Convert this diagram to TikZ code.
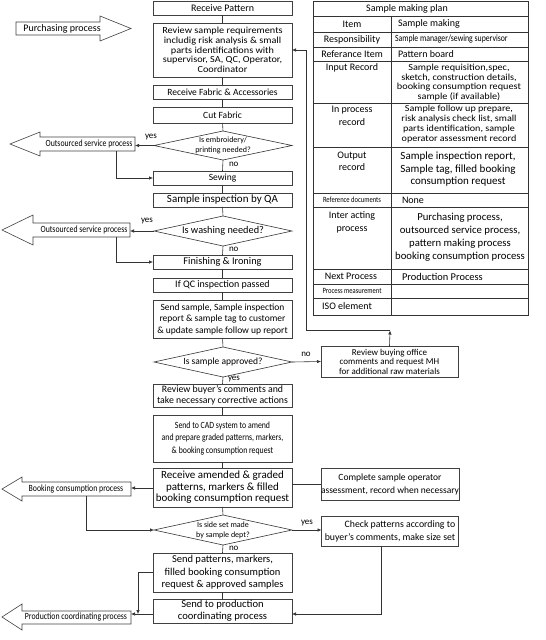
\documentclass[tikz,border=0pt]{standalone}
\usepackage{fontspec}
\setmainfont{Carlito}
\newfontfamily\narrowfont[FakeStretch=0.82]{Carlito}
\newfontfamily\widefont[FakeStretch=1.1]{Carlito}
\usetikzlibrary{arrows.meta,calc}
\begin{document}
\begin{tikzpicture}[x=1pt,y=-1pt,
 every node/.style={inner sep=0pt, outer sep=0pt},
 box/.style={draw=black!75, line width=0.6pt, align=center, minimum width=139pt, font=\fontsize{9.5}{11.5}\selectfont},
 sbox/.style={draw=black!75, line width=0.6pt, align=center, minimum width=137pt},
 dia/.style={align=center, minimum width=138pt},
 ln/.style={draw=black!80, line width=0.6pt},
 arr/.style={ln, -{Latex[length=4pt,width=3.5pt]}},
 lbl/.style={font=\fontsize{9}{10}\selectfont},
 shp/.style={draw=black!75, line width=0.6pt, fill=white},
 narrowtxt/.style={font=\narrowfont\fontsize{9.5}{10}\selectfont},
 tbl/.style={font=\fontsize{10}{10.5}\selectfont, align=center},
]
\useasboundingbox (0,0) rectangle (546,640);

% ---------- left process arrows (shapes) ----------
\draw[shp] (16,22)--(100,22)--(100,16)--(131,28.5)--(100,41)--(100,35)--(16,35)--cycle;
\node[font=\fontsize{10}{11}\selectfont] (pur) at (62,28.5) {Purchasing process};

\draw[shp] (10,144)--(40,132)--(40,137)--(135,137)--(135,151)--(40,151)--(40,156)--cycle;
\node[narrowtxt] (out1) at (89,144) {Outsourced service process};
\coordinate (out1e) at (135,145);
\coordinate (out1b) at (116,151);

\draw[shp] (2,230)--(33,215)--(33,223)--(130,223)--(130,237)--(33,237)--(33,245)--cycle;
\node[narrowtxt] (out2) at (84,230) {Outsourced service process};
\coordinate (out2e) at (130,231);
\coordinate (out2b) at (116,237);

\draw[shp] (2,489)--(22,477)--(22,482)--(131,482)--(131,496)--(22,496)--(22,501)--cycle;
\node[narrowtxt] (book) at (76,489) {Booking consumption process};
\coordinate (booke) at (131,488);
\coordinate (bookb) at (86,496);

\draw[shp] (2,617)--(22,604)--(22,611)--(131,611)--(131,624)--(22,624)--(22,630)--cycle;
\node[narrowtxt] (prod) at (76,617) {Production coordinating process};
\coordinate (prode) at (131,614);
\coordinate (prodj) at (138,614);

% ---------- main column ----------
\node[box, minimum height=14pt, font=\fontsize{10}{11}\selectfont] (rp) at (222.5,8) {Receive Pattern};
\node[box, minimum height=54pt, font=\widefont\fontsize{9.3}{9.7}\selectfont] (rsr) at (222.5,50) {Review sample requirements\\includig risk analysis \& small\\parts identifications with\\supervisor, SA, QC, Operator,\\Coordinator};
\node[box, minimum height=14pt] (rfa) at (222.5,92) {Receive Fabric \& Accessories};
\node[box, minimum height=16pt] (cf) at (222.5,115) {Cut Fabric};
\node[dia, minimum height=29pt, font=\fontsize{8}{9.5}\selectfont] (d1) at (223,145.5) {Is embroidery/\\printing needed?};
\draw[ln] (d1.west)--(d1.north)--(d1.east)--(d1.south)--cycle;
\node[box, minimum height=14pt] (sew) at (222.5,178) {Sewing};
\node[box, minimum height=14pt, font=\fontsize{11}{12}\selectfont] (siq) at (222.5,200) {Sample inspection by QA};
\node[dia, minimum height=30pt, font=\fontsize{10.3}{11}\selectfont] (d2) at (223,231) {Is washing needed?};
\draw[ln] (d2.west)--(d2.north)--(d2.east)--(d2.south)--cycle;
\node[box, minimum height=14pt, font=\fontsize{10.3}{11}\selectfont] (fi) at (222.5,262) {Finishing \& Ironing};
\node[box, minimum height=14pt, font=\fontsize{10}{11}\selectfont] (qc) at (222.5,285) {If QC inspection passed};
\node[box, minimum height=38pt] (ss) at (222.5,319) {Send sample, Sample inspection\\report \& sample tag to customer\\\& update sample follow up report};
\node[dia, minimum height=30pt, font=\fontsize{9.5}{11}\selectfont] (d3) at (223,362) {Is sample approved?};
\draw[ln] (d3.west)--(d3.north)--(d3.east)--(d3.south)--cycle;
\node[box, minimum height=23pt, font=\fontsize{9.8}{11}\selectfont] (rbc) at (222.5,395.5) {Review buyer’s comments and\\take necessary corrective actions};
\node[box, minimum height=47pt, font=\narrowfont\fontsize{9.5}{12.5}\selectfont] (cad) at (222.5,438.5) {Send to CAD system to amend\\and prepare graded patterns, markers,\\\& booking consumption request};
\node[box, minimum height=39pt, font=\fontsize{11}{11.5}\selectfont] (ra) at (222.5,487.5) {Receive amended \& graded\\patterns, markers \& filled\\booking consumption request};
\node[dia, minimum height=30pt, font=\fontsize{8}{10}\selectfont] (d4) at (223,530) {Is side set made\\by sample dept?};
\draw[ln] (d4.west)--(d4.north)--(d4.east)--(d4.south)--cycle;
\node[box, minimum height=39pt, font=\fontsize{10.5}{12.5}\selectfont] (sp) at (222.5,572.5) {Send patterns, markers,\\filled booking consumption\\request \& approved samples};
\node[box, minimum height=24pt, font=\fontsize{10.6}{12}\selectfont] (spc) at (222.5,611) {Send to production\\coordinating process};

% sequence lines
\foreach \a/\b in {rp/rsr,rsr/rfa,rfa/cf,cf/d1,d1/sew,sew/siq,siq/d2,d2/fi,fi/qc,qc/ss,ss/d3,d3/rbc,rbc/cad,cad/ra,ra/d4,d4/sp,sp/spc}
  \draw[ln] (\a.south) -- (\b.north);

% ---------- right boxes ----------
\node[sbox, minimum height=31pt, font=\fontsize{9}{9.5}\selectfont] (rbo) at (389.5,361.5) {Review buying office\\comments and request MH\\for additional raw materials};
\node[sbox, minimum height=32pt, font=\fontsize{9.5}{13}\selectfont] (cso) at (390,484) {Complete sample operator\\assessment, record when necessary};
\node[sbox, minimum height=30pt, align=right, font=\fontsize{9.8}{13}\selectfont] (cps) at (390,531) {Check patterns according to\\buyer’s comments, make size set};

% ---------- connectors ----------
\draw[arr] (d1.west) -- (d1.west -| out1e);
\node[lbl] at (151,137) {yes};
\node[lbl, anchor=west] at (229,164.5) {no};
\draw[arr] (out1b) |- (sew.west);

\draw[arr] (d2.west) -- (out2e);
\node[lbl] at (147,221) {yes};
\node[lbl, anchor=west] at (229,249.5) {no};
\draw[arr] (out2b) |- (fi.west);

\draw[arr] (d3.east) -- (rbo.west);
\node[lbl] at (306,354) {no};
\node[lbl, anchor=west] at (228,379.5) {yes};
\coordinate (fbk) at (390,330.5);
\draw[arr] (rbo.north) -- (fbk);
\draw[arr] (fbk) -- (306,330.5) |- (rsr.east);

\draw[arr] (ra.west |- booke) -- (booke);
\draw[ln] (cso.west) -- (cso.west -| ra.east);
\draw[arr] (bookb) |- (d4.west);
\draw[arr] (d4.east) -- (d4.east -| cps.west);
\node[lbl] at (307,523) {yes};
\node[lbl, anchor=west] at (229,548.5) {no};
\draw[arr] ($(cps.south west)!0.44!(cps.south east)$) |- (spc.east |- prode);
\draw[arr] (spc.west |- prode) -- (prode);
\draw[arr] (sp.west) -| (prodj);

% ---------- table ----------
\draw[ln] (313,1) rectangle (528,315);
\foreach \yy in {16,32,47,61,103,147,193,207,269,284,298}
  \draw[ln] (313,\yy) -- (528,\yy);
\draw[ln] (391,16) -- (391,315);
\node[tbl] (tt) at (407,8.5) {Sample making plan};
\node[tbl] (l1) at (352,24) {Item};
\node[tbl] (l2) at (352,39.5) {Responsibility};
\node[tbl] (l3) at (352,54) {Referance Item};
\node[tbl] (l4) at (352,68) {Input Record};
\node[tbl, font=\fontsize{10}{13}\selectfont] (l5) at (352,115.5) {In process\\record};
\node[tbl, font=\fontsize{10}{12}\selectfont] (l6) at (352,161) {Output\\record};
\node[tbl, font=\narrowfont\fontsize{8}{9}\selectfont] (l7) at (352,200) {Reference documents};
\node[tbl, font=\fontsize{10}{13}\selectfont] (l8) at (352,222.5) {Inter acting\\process};
\node[tbl] (l9) at (351,276.5) {Next Process};
\node[tbl, font=\narrowfont\fontsize{8}{9}\selectfont] (l10) at (352,291) {Process measurement};
\node[tbl] (l11) at (347,306.5) {ISO element};

\node[tbl, anchor=west] (r1) at (398,24) {Sample making};
\node[tbl, anchor=west, font=\narrowfont\fontsize{9.5}{10}\selectfont] (r2) at (395,39.5) {Sample manager/sewing supervisor};
\node[tbl, anchor=west] (r3) at (398,54) {Pattern board};
\node[tbl, font=\widefont\fontsize{9.3}{9.7}\selectfont] (r4) at (459,82.5) {Sample requisition,spec,\\sketch, construction details,\\booking consumption request\\sample (if available)};
\node[tbl, font=\widefont\fontsize{9.2}{10}\selectfont] (r5) at (459,124) {Sample follow up prepare,\\risk analysis check list, small\\parts identification, sample\\operator assessment record};
\node[tbl, font=\fontsize{11}{12.5}\selectfont] (r6) at (458,169.5) {Sample inspection report,\\Sample tag, filled booking\\consumption request};
\node[tbl, anchor=west] (r7) at (402,200) {None};
\node[tbl, font=\fontsize{10.7}{13}\selectfont] (r8) at (460,237.5) {Purchasing process,\\outsourced service process,\\pattern making process\\booking consumption process};
\node[tbl, anchor=west, font=\fontsize{10.4}{11}\selectfont] (r9) at (402,277) {Production Process};
\end{tikzpicture}
\end{document}
